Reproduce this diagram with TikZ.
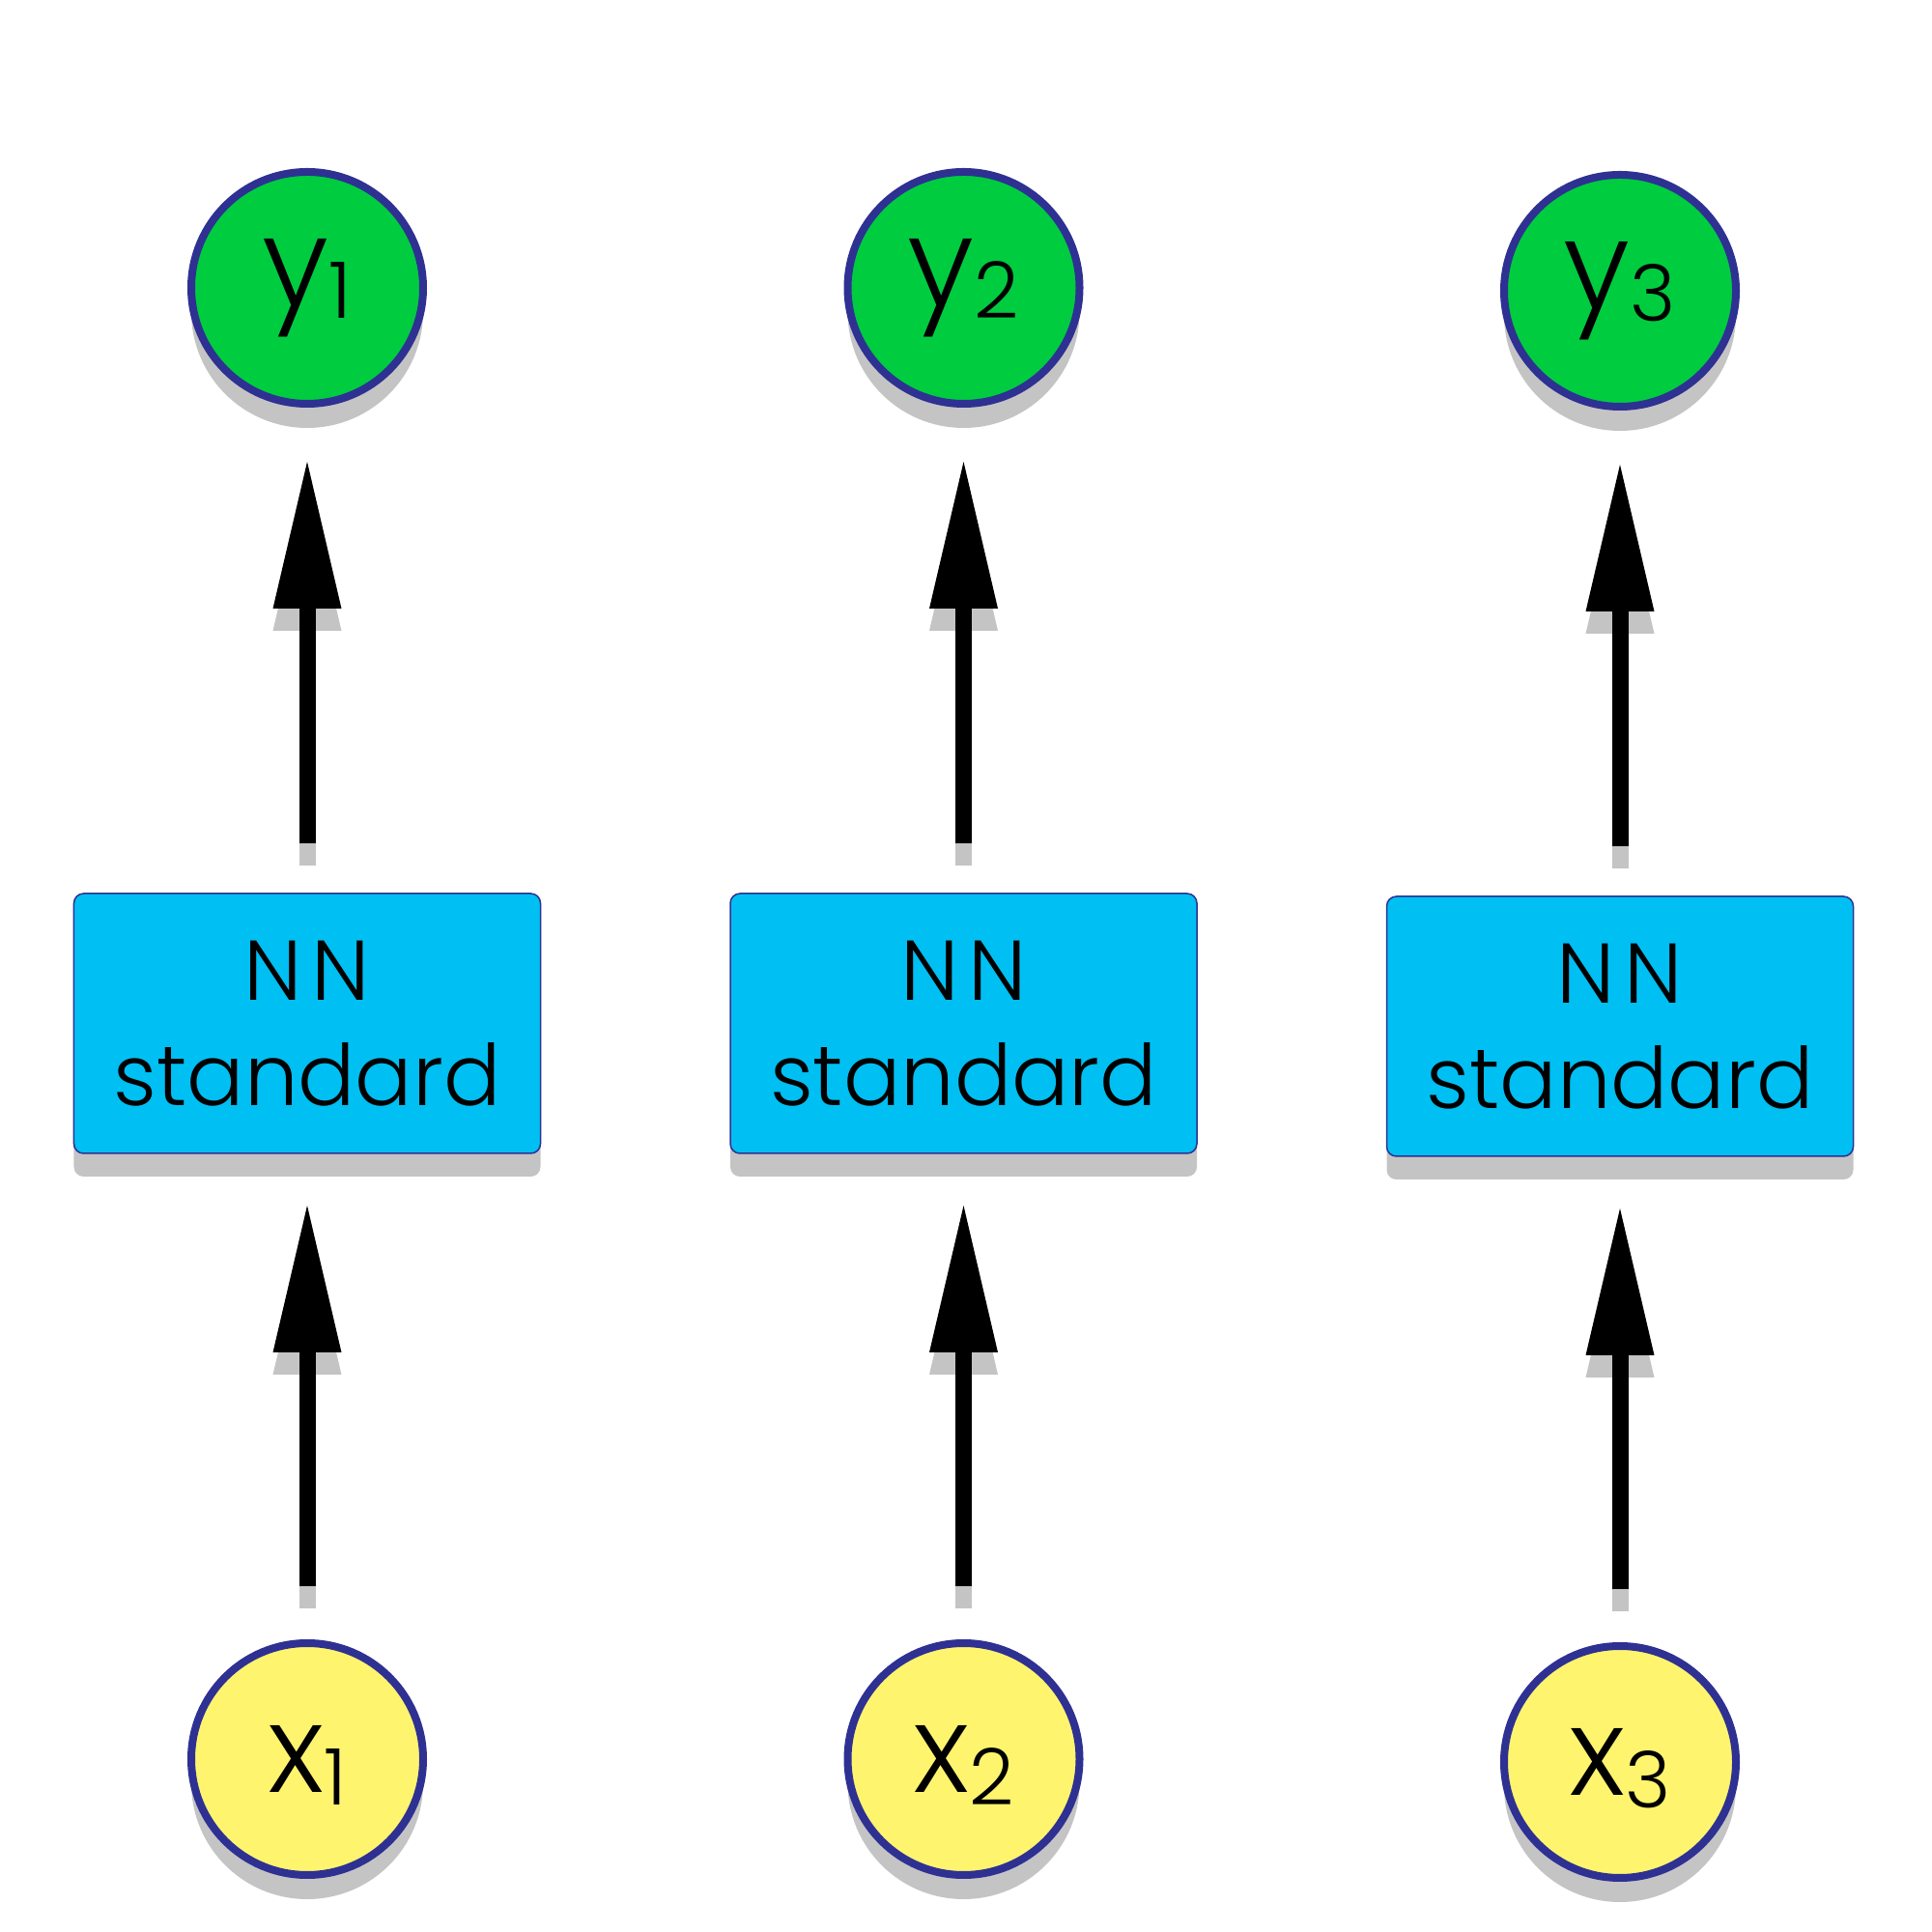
\documentclass[tikz,border=0pt]{standalone}
\usepackage{fontspec}
\setmainfont{Poppins Light}
\usepackage{tikz}
\usetikzlibrary{arrows.meta}
\usetikzlibrary{shadows}
\definecolor{outgreen}{RGB}{0,204,64}
\definecolor{inyellow}{RGB}{255,244,110}
\definecolor{nnblue}{RGB}{0,191,243}
\definecolor{rimblue}{RGB}{46,49,146}
\definecolor{shadowgray}{RGB}{196,196,196}
\newcommand{\sublabel}[2]{#1\raisebox{-0.13cm}[0pt][0pt]{\fontsize{23}{23}\selectfont #2}}
\tikzset{
    gnode/.style = {align=center, inner sep=0pt, outer sep=0pt, text centered},
    circ_node/.style = {gnode, circle, draw=rimblue, line width=0.08cm, minimum size=2.40cm, font=\fontsize{36}{40}\selectfont,
        drop shadow={shadow xshift=0cm, shadow yshift=-0.25cm, fill=shadowgray, opacity=1}},
    out_node/.style = {circ_node, fill=outgreen},
    in_node/.style = {circ_node, fill=inyellow},
    nn_box/.style = {gnode, rectangle, rounded corners=0.1cm, draw=rimblue, line width=0.015cm, fill=nnblue,
        minimum width=4.83cm, minimum height=2.69cm, font=\fontsize{25}{31}\selectfont,
        drop shadow={shadow xshift=0cm, shadow yshift=-0.24cm, fill=shadowgray, opacity=1}},
    up_arrow/.style = {->, line width=0.17cm, black},
    up_shadow/.style = {up_arrow, shadowgray, transform canvas={yshift=-0.23cm}},
    into_box/.style = {shorten <=0.587cm, shorten >=0.54cm},
    from_box/.style = {shorten <=0.515cm, shorten >=0.60cm}
}

\begin{document}
\begin{tikzpicture}
    [>={Triangle[length=1.52cm, width=0.71cm, line width=0pt]}]

    \useasboundingbox (0,0) rectangle (20,20);

    % outputs
    \node [out_node] (y1) at (3.18,17.02) {\sublabel{y}{1}};
    \node [out_node] (y2) at (9.975,17.02) {\sublabel{y}{2}};
    \node [out_node] (y3) at (16.77,16.99) {\sublabel{y}{3}};

    % networks
    \node [nn_box] (nn1) at (3.18,9.405) {N\kern0.1cm N\\standard};
    \node [nn_box] (nn2) at (9.975,9.405) {N\kern0.1cm N\\standard};
    \node [nn_box] (nn3) at (16.77,9.375) {N\kern0.1cm N\\standard};

    % inputs
    \node [in_node] (x1) at (3.18,1.79) {\sublabel{x}{1}};
    \node [in_node] (x2) at (9.975,1.79) {\sublabel{x}{2}};
    \node [in_node] (x3) at (16.77,1.76) {\sublabel{x}{3}};

    % arrow shadows
    \draw [up_shadow, into_box] (x1.north) -- (nn1.south);
    \draw [up_shadow, into_box] (x2.north) -- (nn2.south);
    \draw [up_shadow, into_box] (x3.north) -- (nn3.south);
    \draw [up_shadow, from_box] (nn1.north) -- (y1.south);
    \draw [up_shadow, from_box] (nn2.north) -- (y2.south);
    \draw [up_shadow, from_box] (nn3.north) -- (y3.south);

    % arrows
    \draw [up_arrow, into_box] (x1.north) -- (nn1.south);
    \draw [up_arrow, into_box] (x2.north) -- (nn2.south);
    \draw [up_arrow, into_box] (x3.north) -- (nn3.south);
    \draw [up_arrow, from_box] (nn1.north) -- (y1.south);
    \draw [up_arrow, from_box] (nn2.north) -- (y2.south);
    \draw [up_arrow, from_box] (nn3.north) -- (y3.south);
\end{tikzpicture}
\end{document}
